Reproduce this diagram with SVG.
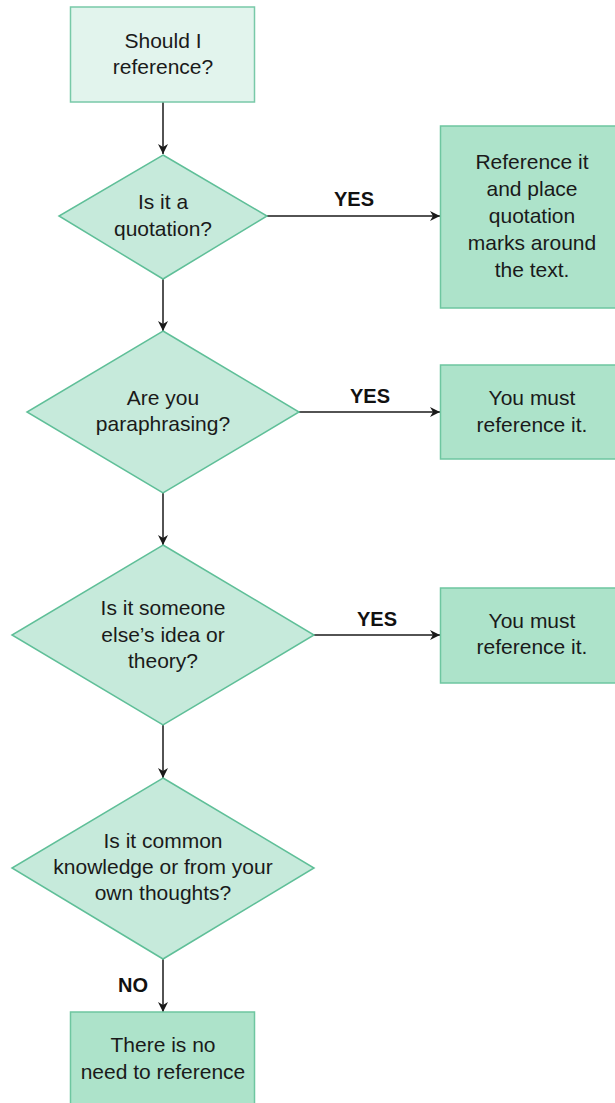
<svg xmlns="http://www.w3.org/2000/svg" width="615" height="1103" viewBox="0 0 615 1103">
  <style>
    .lbl { font-family: "Liberation Sans", Arial, sans-serif; font-size: 21px; fill: #1a1a1a; text-anchor: middle; }
    .edge-lbl { font-family: "Liberation Sans", Arial, sans-serif; font-size: 20px; font-weight: bold; fill: #111; text-anchor: middle; }
    .start { fill: #e2f4ed; stroke: #78c9a8; stroke-width: 1.5; }
    .decision { fill: #c6eadb; stroke: #5fbf98; stroke-width: 1.5; }
    .result { fill: #ade3ca; stroke: #6ec6a0; stroke-width: 1.5; }
    .conn { fill: none; stroke: #1a1a1a; stroke-width: 1.5; marker-end: url(#arrow); }
  </style>
  <defs>
    <marker id="arrow" viewBox="0 0 10 10" refX="10" refY="5" markerWidth="10" markerHeight="10" markerUnits="userSpaceOnUse" orient="auto">
      <path d="M0,0 L10,5 L0,10 L3,5 Z" fill="#1a1a1a"/>
    </marker>
  </defs>
  <rect width="615" height="1103" fill="#ffffff"/>

  <!-- connectors -->
  <g id="connectors">
    <line class="conn" x1="163" y1="102" x2="163" y2="154"/>
    <line class="conn" x1="267" y1="216" x2="440" y2="216"/>
    <line class="conn" x1="163" y1="279" x2="163" y2="331"/>
    <line class="conn" x1="299" y1="412" x2="440" y2="412"/>
    <line class="conn" x1="163" y1="493" x2="163" y2="545"/>
    <line class="conn" x1="314" y1="635" x2="440" y2="635"/>
    <line class="conn" x1="163" y1="725" x2="163" y2="778"/>
    <line class="conn" x1="163" y1="959" x2="163" y2="1012"/>
    <text class="edge-lbl" x="354" y="206">YES</text>
    <text class="edge-lbl" x="370" y="403">YES</text>
    <text class="edge-lbl" x="377" y="626">YES</text>
    <text class="edge-lbl" x="133" y="992">NO</text>
  </g>

  <!-- start -->
  <g id="start">
    <rect class="start" x="70.5" y="7" width="184" height="95"/>
    <text class="lbl" x="163" y="48">Should I</text>
    <text class="lbl" x="163" y="74">reference?</text>
  </g>

  <!-- question 1 -->
  <g id="q-quotation">
    <polygon class="decision" points="163,155 267,216 163,279 59,216"/>
    <text class="lbl" x="163" y="209">Is it a</text>
    <text class="lbl" x="163" y="236">quotation?</text>
  </g>

  <g id="r-quotation">
    <rect class="result" x="440.5" y="126" width="180" height="182"/>
    <text class="lbl" x="532" y="169">Reference it</text>
    <text class="lbl" x="532" y="196">and place</text>
    <text class="lbl" x="532" y="223">quotation</text>
    <text class="lbl" x="532" y="250">marks around</text>
    <text class="lbl" x="532" y="277">the text.</text>
  </g>

  <!-- question 2 -->
  <g id="q-paraphrase">
    <polygon class="decision" points="163,331 299,412 163,493 27,412"/>
    <text class="lbl" x="163" y="405">Are you</text>
    <text class="lbl" x="163" y="431">paraphrasing?</text>
  </g>

  <g id="r-paraphrase">
    <rect class="result" x="440.5" y="365" width="180" height="94"/>
    <text class="lbl" x="532" y="405">You must</text>
    <text class="lbl" x="532" y="432">reference it.</text>
  </g>

  <!-- question 3 -->
  <g id="q-idea">
    <polygon class="decision" points="163,545 314,635 163,725 12,635"/>
    <text class="lbl" x="163" y="615">Is it someone</text>
    <text class="lbl" x="163" y="642">else’s idea or</text>
    <text class="lbl" x="163" y="668">theory?</text>
  </g>

  <g id="r-idea">
    <rect class="result" x="440.5" y="588" width="180" height="95"/>
    <text class="lbl" x="532" y="628">You must</text>
    <text class="lbl" x="532" y="654">reference it.</text>
  </g>

  <!-- question 4 -->
  <g id="q-common">
    <polygon class="decision" points="163,778 314,868 163,959 12,868"/>
    <text class="lbl" x="163" y="848">Is it common</text>
    <text class="lbl" x="163" y="874">knowledge or from your</text>
    <text class="lbl" x="163" y="900">own thoughts?</text>
  </g>

  <!-- end -->
  <g id="end">
    <rect class="result" x="70.5" y="1012" width="184" height="100"/>
    <text class="lbl" x="163" y="1052">There is no</text>
    <text class="lbl" x="163" y="1079">need to reference</text>
  </g>
</svg>
